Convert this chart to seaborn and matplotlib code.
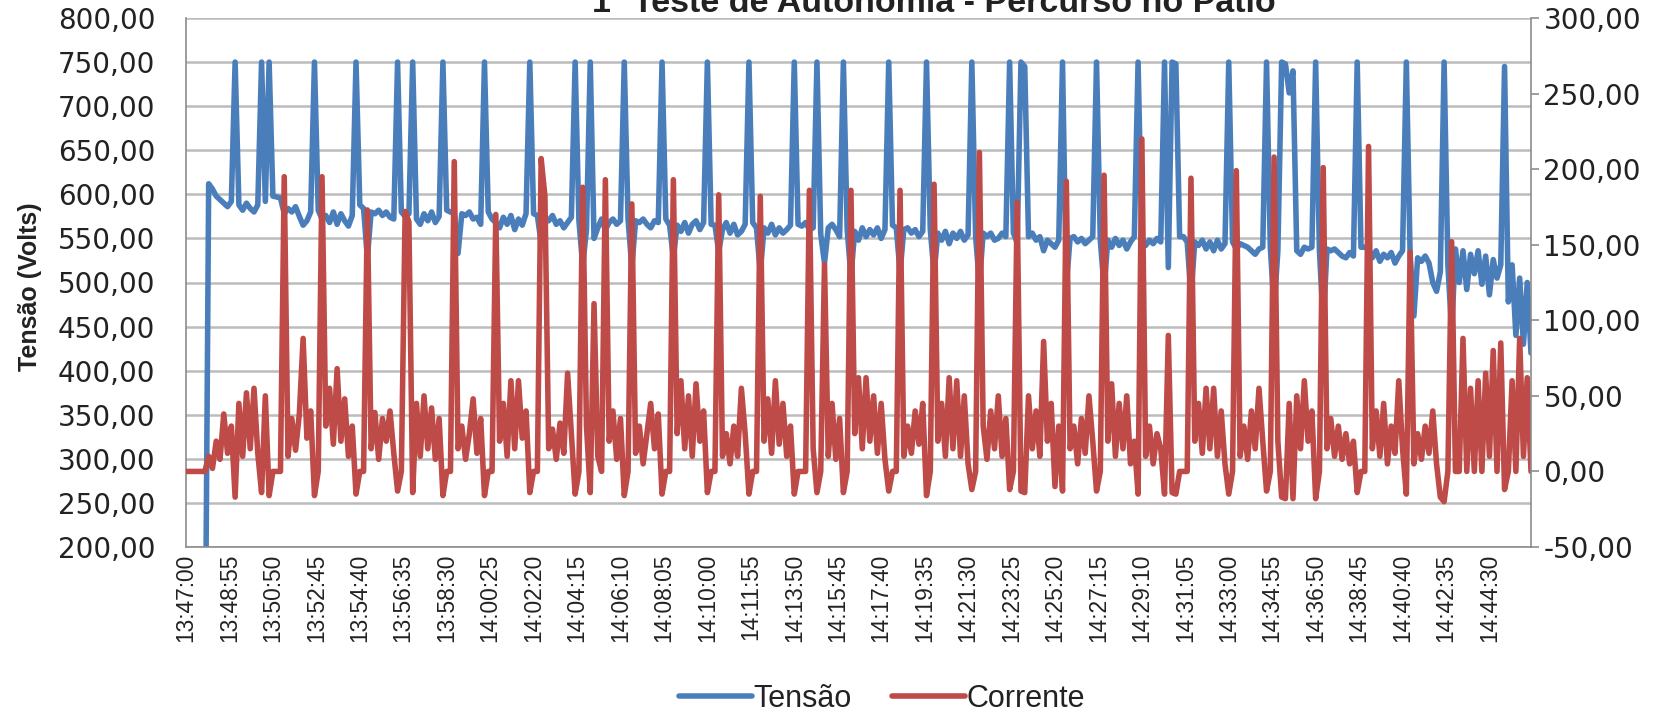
import numpy as np
import pandas as pd
import matplotlib
matplotlib.use("Agg")
import matplotlib.pyplot as plt
import seaborn as sns
from matplotlib import font_manager as fm
from matplotlib.ticker import FixedLocator, FuncFormatter

# ---------------- data ----------------
STEP_S = 10  # one sample every 10 s, starting 13:47:00

tensao = [
    0, 0, 0, 0, 0, 0, 612, 606, 598, 594, 590, 586, 592, 750, 588, 582, 590, 584, 580, 588,
    750, 592, 750, 598, 597, 596, 578, 584, 580, 586, 575, 565, 570, 580, 750, 582, 572, 576, 568, 580,
    566, 578, 570, 564, 576, 750, 588, 584, 528, 580, 578, 582, 576, 580, 574, 572, 750, 580, 575, 578,
    750, 572, 566, 578, 570, 580, 568, 575, 750, 582, 580, 578, 533, 578, 576, 580, 572, 574, 566, 750,
    580, 572, 568, 562, 574, 566, 576, 560, 572, 565, 578, 750, 578, 576, 545, 574, 570, 576, 566, 570,
    562, 568, 574, 750, 570, 519, 560, 750, 550, 562, 572, 560, 568, 572, 566, 570, 750, 572, 517, 570,
    568, 572, 566, 562, 570, 568, 750, 572, 565, 528, 565, 558, 568, 556, 566, 570, 560, 568, 750, 566,
    565, 535, 560, 568, 556, 566, 554, 558, 566, 750, 568, 562, 511, 562, 556, 566, 554, 562, 556, 560,
    565, 750, 566, 564, 568, 560, 562, 750, 555, 522, 562, 566, 560, 552, 750, 560, 507, 558, 548, 562,
    552, 560, 554, 562, 550, 560, 750, 565, 562, 512, 560, 562, 556, 560, 552, 558, 750, 560, 510, 556,
    548, 558, 544, 556, 550, 558, 548, 554, 750, 552, 499, 556, 552, 556, 548, 550, 556, 552, 750, 556,
    545, 750, 745, 552, 556, 548, 552, 536, 548, 544, 540, 548, 750, 496, 550, 552, 546, 550, 544, 548,
    552, 750, 548, 494, 548, 540, 550, 542, 548, 538, 546, 552, 750, 548, 542, 548, 544, 550, 546, 750,
    517, 750, 748, 552, 552, 546, 484, 546, 542, 548, 538, 546, 536, 548, 538, 544, 750, 546, 538, 544,
    542, 540, 536, 532, 538, 540, 750, 540, 470, 536, 750, 748, 715, 740, 536, 532, 540, 538, 540, 750,
    536, 453, 538, 536, 538, 534, 530, 528, 534, 530, 750, 540, 540, 538, 528, 536, 524, 532, 528, 534,
    522, 530, 536, 750, 532, 462, 528, 524, 530, 522, 500, 490, 512, 750, 520, 445, 538, 500, 536, 492,
    532, 510, 536, 498, 530, 486, 526, 505, 520, 745, 478, 520, 440, 505, 430, 500, 420,
]

corrente = [
    0, 0, 0, 0, 0, 0, 10, 2, 20, 8, 38, 12, 30, -17, 45, 10, 52, 15, 55, 12,
    -14, 50, -16, 0, 0, 0, 195, 10, 35, 14, 38, 88, 22, 40, -16, 0, 195, 30, 55, 18,
    68, 20, 48, 10, 30, -15, 0, 0, 173, 15, 39, 8, 35, 20, 40, 12, -13, 0, 172, 165,
    -14, 45, 10, 50, 15, 42, 8, 35, -16, 0, 0, 205, 15, 30, 8, 25, 48, 12, 35, -16,
    0, 0, 170, 20, 45, 10, 60, 15, 60, 22, 40, -14, 0, 0, 207, 182, 15, 28, 8, 32,
    12, 65, 25, -15, 0, 188, 30, -14, 111, 10, 0, 193, 20, 40, 8, 35, -16, 0, 177, 12,
    30, 5, 25, 45, 15, 38, -15, 0, 0, 193, 25, 60, 15, 50, 10, 58, 20, 40, -14, 0,
    0, 183, 10, 25, 5, 30, 10, 55, 25, -15, 0, 0, 182, 20, 48, 12, 60, 18, 45, 10,
    30, -15, 0, 0, 0, 186, 15, -14, 0, 137, 10, 45, 8, 35, -14, 0, 186, 25, 62, 15,
    62, 20, 50, 12, 45, 8, -13, 0, 0, 186, 10, 30, 12, 40, 18, 45, -16, 0, 190, 20,
    45, 10, 62, 15, 60, 10, 50, 5, -12, 0, 211, 30, 8, 40, 15, 50, 10, 35, -12, 0,
    178, -13, -14, 50, 15, 40, 10, 86, 20, 45, -10, 30, -13, 192, 15, 30, 5, 35, 12, 50,
    20, -13, 0, 196, 20, 58, 10, 45, 15, 50, 5, 20, -15, 220, 10, 30, 5, 25, 15, -15,
    90, -14, -15, 0, 0, 0, 194, 20, 45, 12, 55, 15, 55, 10, 40, 5, -15, 0, 199, 10,
    30, 8, 40, 15, 55, 20, -13, 0, 208, 20, -17, -18, 45, -18, 50, 15, 60, 20, 40, -18,
    0, 201, 15, 35, 10, 30, 8, 25, 5, 20, -14, 0, 0, 215, 15, 40, 10, 45, 5, 30,
    12, 60, 15, -15, 145, 5, 25, 8, 30, 12, 40, 5, -17, -20, 0, 152, 0, 0, 88, 0,
    55, 0, 60, 0, 65, 10, 80, 0, 85, -12, 0, 60, 0, 88, 10, 62, 0,
]

tick_labels = [
    "13:47:00", "13:48:55", "13:50:50", "13:52:45", "13:54:40", "13:56:35",
    "13:58:30", "14:00:25", "14:02:20", "14:04:15", "14:06:10", "14:08:05",
    "14:10:00", "14:11:55", "14:13:50", "14:15:45", "14:17:40", "14:19:35",
    "14:21:30", "14:23:25", "14:25:20", "14:27:15", "14:29:10", "14:31:05",
    "14:33:00", "14:34:55", "14:36:50", "14:38:45", "14:40:40", "14:42:35",
    "14:44:30",
]
left_ticks = [200, 250, 300, 350, 400, 450, 500, 550, 600, 650, 700, 750, 800]
right_ticks = [-50, 0, 50, 100, 150, 200, 250, 300]

assert len(tensao) == len(corrente)

# ---------------- fonts ----------------
def has_font(name):
    try:
        fm.findfont(fm.FontProperties(family=name), fallback_to_default=False)
        return True
    except Exception:
        return False

NARROW = "Liberation Sans Narrow" if has_font("Liberation Sans Narrow") else "Liberation Sans"
narrow_scale = 1.0 if NARROW == "Liberation Sans Narrow" else 0.82

sns.set_theme(style="white")
plt.rcParams["font.family"] = ["DejaVu Sans"]

BLUE = "#4A7EBB"
RED = "#BE4B48"
GRID = "#BCBCBC"
AXC = "#8C8C8C"
TXT = "#222222"


def to_sec(s):
    h, m, sec = (int(v) for v in s.split(":"))
    return h * 3600 + m * 60 + sec


t0 = to_sec(tick_labels[0])
tick_pos = [to_sec(s) - t0 for s in tick_labels]

df = pd.DataFrame({
    "t": np.arange(len(tensao)) * STEP_S,
    "Tensão": tensao,
    "Corrente": corrente,
})

W, H = 1673, 711
fig = plt.figure(figsize=(W / 100, H / 100), dpi=100)
L, R, T, B = 186, 1531, 18, 547
ax = fig.add_axes([L / W, 1 - B / H, (R - L) / W, (B - T) / H])
ax2 = ax.twinx()

sns.lineplot(data=df, x="t", y="Tensão", ax=ax, color=BLUE, linewidth=4.0,
             legend=False, estimator=None, sort=False)
sns.lineplot(data=df, x="t", y="Corrente", ax=ax2, color=RED, linewidth=4.0,
             legend=False, estimator=None, sort=False)

ax.set_xlim(0, df["t"].iloc[-1])
ax.set_ylim(left_ticks[0], left_ticks[-1])
ax2.set_ylim(right_ticks[0], right_ticks[-1])

fmt = FuncFormatter(lambda v, p: f"{v:.2f}".replace(".", ","))
ax.yaxis.set_major_locator(FixedLocator(left_ticks))
ax.yaxis.set_major_formatter(fmt)
ax2.yaxis.set_major_locator(FixedLocator(right_ticks))
ax2.yaxis.set_major_formatter(fmt)

ax.set_xticks(tick_pos)
ax.set_xticklabels(tick_labels, rotation=90, family=NARROW,
                   fontsize=20 * narrow_scale, color=TXT)
ax.tick_params(axis="x", length=0, pad=5)
ax.tick_params(axis="y", length=0, pad=22, labelsize=20, labelcolor=TXT)
ax2.tick_params(axis="y", direction="out", length=6, width=1.2, color=AXC,
                pad=3, labelsize=20, labelcolor=TXT)

ax.yaxis.grid(True, color=GRID, linewidth=1.8)
ax.xaxis.grid(False)
ax.set_axisbelow(True)
ax2.grid(False)

for a in (ax, ax2):
    a.set_xlabel("")
    a.set_ylabel("")
    for s in a.spines.values():
        s.set_visible(False)
ax.spines["left"].set_visible(True)
ax.spines["left"].set_color(AXC)
ax.spines["left"].set_linewidth(1.2)
ax.spines["bottom"].set_visible(True)
ax.spines["bottom"].set_color(AXC)
ax.spines["bottom"].set_linewidth(1.2)
ax2.spines["right"].set_visible(True)
ax2.spines["right"].set_color(AXC)
ax2.spines["right"].set_linewidth(1.2)
ax.patch.set_alpha(0)

fig.text(30 / W, 1 - 287 / H, "Tensão (Volts)", rotation=90, ha="center", va="center",
         family=NARROW, fontweight="bold", fontsize=22 * narrow_scale, color=TXT)

fig.text(934 / W, 1 - 12 / H, "1º Teste de Autonomia - Percurso no Pátio",
         ha="center", va="baseline", family="Liberation Sans", fontweight="bold",
         fontsize=24.5, color=TXT)

handles = [ax.get_lines()[0], ax2.get_lines()[0]]
leg = fig.legend(handles, ["Tensão", "Corrente"], loc="center",
                 bbox_to_anchor=(882 / W, 1 - 699 / H), ncol=2, frameon=False,
                 handlelength=2.4, handletextpad=0.05, columnspacing=1.3,
                 borderpad=0.0, prop={"family": "Liberation Sans", "size": 22})
for txt in leg.get_texts():
    txt.set_color(TXT)

fig.savefig("out.png", dpi=100)
